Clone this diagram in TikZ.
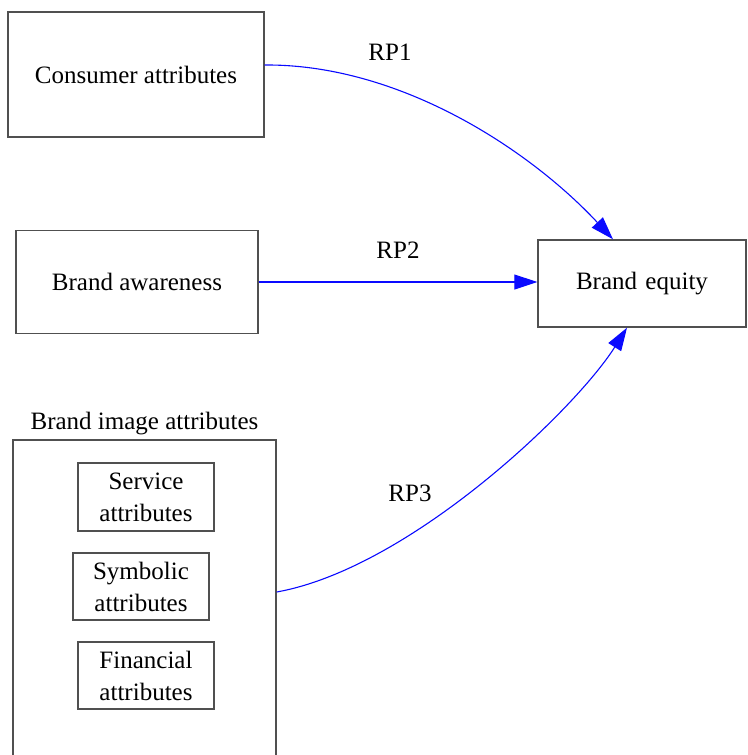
\documentclass[tikz,border=0pt]{standalone}
\usepackage{fontspec}
\setmainfont{Liberation Serif}
\usetikzlibrary{arrows.meta,calc}
\definecolor{boxline}{HTML}{505050}
\definecolor{linkblue}{HTML}{0A0AFF}
\tikzset{
  box/.style={draw=boxline, line width=1.4pt, rectangle, inner sep=0pt, align=center,
              font=\fontsize{25}{32}\selectfont},
  lbl/.style={inner sep=0pt, font=\fontsize{25}{32}\selectfont},
  link/.style={draw=linkblue, line width=1.1pt, -{Triangle[length=23pt,width=15pt]}, color=linkblue}
}
\begin{document}
\begin{tikzpicture}[x=1pt,y=-1pt]
  \useasboundingbox (0,0) rectangle (747,755);
  \clip (0,0) rectangle (747,755);
  % factor boxes
  \node[box, minimum width=256pt, minimum height=125pt] (ca) at (136,74.5) {Consumer attributes};
  \node[box, minimum width=242pt, minimum height=103pt] (ba) at (137,282) {Brand awareness};
  \node[box, minimum width=208pt, minimum height=87pt, text width=208pt] (be) at (642,283.5) {Brand equity};
  % brand image group with its three parts
  \node[box, minimum width=263pt, minimum height=330pt] (bi) at (144.5,605) {};
  \node[lbl, anchor=south] (bit) at ($(bi.north)+(0,-4)$) {Brand image attributes};
  \node[box, minimum width=136pt, minimum height=68pt] (sv) at (146,497) {Service\\attributes};
  \node[box, minimum width=136pt, minimum height=67pt] (sy) at (141,586.5) {Symbolic\\attributes};
  \node[box, minimum width=136pt, minimum height=67pt] (fi) at (146,675.5) {Financial\\attributes};
  % research propositions
  \draw[link] ($(ca.east)+(0,-9.5)$) .. controls (400,64) and (530,150) .. ($(be.north)+(-29,0)$);
  \draw[link] (ba.east) -- (ba.east -| be.west);
  \draw[link] ($(bi.east)+(0,-13)$) .. controls (410,568) and (575,410) .. ($(be.south)+(-15,0)$);
  \node[lbl] (rp1) at (390,52) {RP1};
  \node[lbl] (rp2) at (398,250) {RP2};
  \node[lbl] (rp3) at (410,493) {RP3};
\end{tikzpicture}
\end{document}
